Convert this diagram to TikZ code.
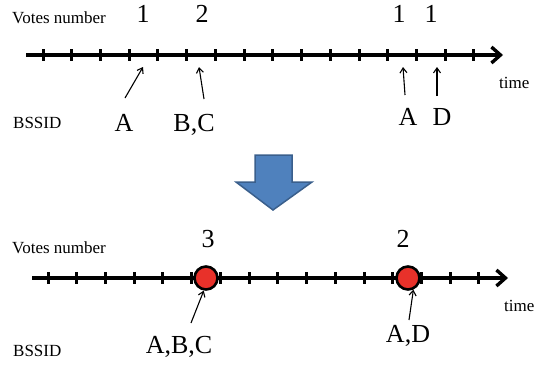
\documentclass[tikz,border=0pt]{standalone}
\usepackage{fontspec}
\setmainfont{Liberation Serif}
\usetikzlibrary{arrows.meta}
\definecolor{blueA}{HTML}{4F81BD}
\definecolor{blueB}{HTML}{3A5F8C}
\definecolor{redC}{HTML}{E8312A}
\begin{document}
\begin{tikzpicture}[x=1pt,y=-1pt,
  axisline/.style={line width=3.4pt,-{Straight Barb[length=9pt,width=16pt]}},
  tickmark/.style={line width=3pt},
  ptr/.style={line width=1.1pt,-{Straight Barb[length=5pt,width=7pt]}},
  small/.style={font=\fontsize{17}{20}\selectfont,inner sep=0pt},
  big/.style={font=\fontsize{26}{30}\selectfont,inner sep=0pt,anchor=base},
  dot/.style={circle,draw=black,line width=2.6pt,fill=redC,minimum size=23pt,inner sep=0pt},
  blockarrow/.style={fill=blueA,draw=blueB,line width=1.5pt,line join=miter}]
\useasboundingbox (0,0) rectangle (538,367);

% ---------- top timeline ----------
\coordinate (a1s) at (26,55);
\coordinate (a1e) at (503,55);
\foreach \i in {0,...,15} \draw[tickmark] ({43+28.73*\i},49) -- ({43+28.73*\i},61);
\draw[axisline] (a1s) -- (a1e);

\node[small,anchor=base west] (vn1) at (12,23) {Votes number};
\node[small,anchor=base west] (bs1) at (13,128) {BSSID};
\node[small,anchor=base west] (tm1) at (499,88) {time};

\node[big] (v1a) at (143,22) {1};
\node[big] (v1b) at (202,22) {2};
\node[big] (v1c) at (399,22) {1};
\node[big] (v1d) at (431,22) {1};

\node[big] (l1a) at (124,131) {A};
\node[big] (l1b) at (194,131) {B,C};
\node[big] (l1c) at (408,125) {A};
\node[big] (l1d) at (442,125) {D};

\coordinate (p1s) at (125,98);  \coordinate (p1e) at (143,67);
\coordinate (p2s) at (204,99);  \coordinate (p2e) at (199,67);
\coordinate (p3s) at (405,95);  \coordinate (p3e) at (403,67);
\coordinate (p4s) at (437,96);  \coordinate (p4e) at (437,67);
\draw[ptr] (p1s) -- (p1e);
\draw[ptr] (p2s) -- (p2e);
\draw[ptr] (p3s) -- (p3e);
\draw[ptr] (p4s) -- (p4e);

% ---------- block arrow ----------
\draw[blockarrow] (255,155) -- (292,155) -- (292,182) -- (312,182) -- (273,210)
  -- (236,182) -- (255,182) -- cycle;

% ---------- bottom timeline ----------
\coordinate (a2s) at (32,278);
\coordinate (a2e) at (508,278);
\foreach \i in {0,...,15} \draw[tickmark] ({48+28.73*\i},272) -- ({48+28.73*\i},284);
\draw[axisline] (a2s) -- (a2e);

\node[dot] (c1) at (206,278) {};
\node[dot] (c2) at (408,278) {};

\node[small,anchor=base west] (vn2) at (12,253) {Votes number};
\node[small,anchor=base west] (bs2) at (13,356) {BSSID};
\node[small,anchor=base west] (tm2) at (504,311) {time};

\node[big] (v2a) at (208,247) {3};
\node[big] (v2b) at (403,247) {2};

\node[big] (l2a) at (179,353) {A,B,C};
\node[big] (l2b) at (408,342) {A,D};

\coordinate (q1s) at (191,323);
\coordinate (q2s) at (409,320);
\draw[ptr] (q1s) -- (c1.-100);
\draw[ptr] (q2s) -- (c2.-65);
\end{tikzpicture}
\end{document}
